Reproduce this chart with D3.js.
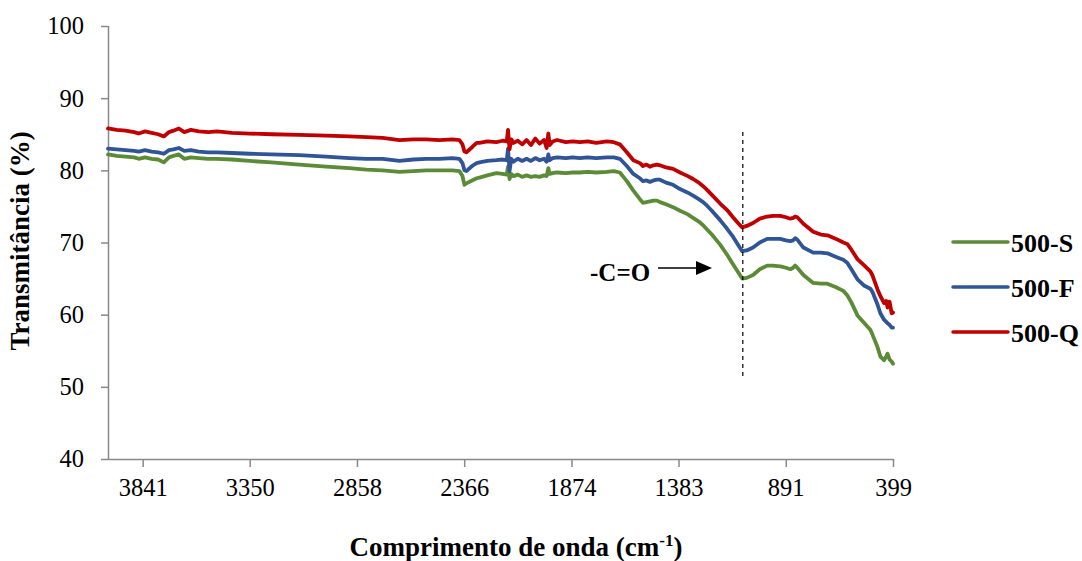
<!DOCTYPE html>
<html><head><meta charset="utf-8">
<script src="https://cdn.jsdelivr.net/npm/d3@7/dist/d3.min.js"></script>
<style>
body{margin:0;background:#fff;}
svg text{font-family:"Liberation Serif","Times New Roman","DejaVu Serif",serif !important;}
</style></head>
<body><svg id="c" width="1082" height="561"></svg>
<script>
const wavenumbers = [4000,3960,3920,3880,3859,3830,3800,3770,3744,3720,3700,3675,3650,3620,3583,3540,3500,3431,3350,3250,3123,3000,2893,2815,2740,2663,2600,2540,2480,2420,2388,2374,2365,2356,2330,2309,2296,2260,2218,2190,2171,2165,2158,2150,2140,2120,2100,2080,2060,2040,2020,2000,1988,1980,1974,1960,1940,1900,1868,1836,1800,1760,1712,1680,1652,1620,1590,1560,1546,1530,1514,1498,1482,1468,1440,1408,1376,1340,1316,1290,1270,1252,1230,1192,1160,1133,1110,1091,1070,1041,1010,976,950,916,890,870,857,848,838,810,765,730,700,660,627,609,590,562,530,503,494,470,457,440,430,424,415,405,399];

const s500Q = [85.8,85.6,85.5,85.3,85.1,85.4,85.2,85.0,84.7,85.3,85.5,85.8,85.3,85.6,85.4,85.3,85.4,85.2,85.1,85.0,84.9,84.8,84.7,84.6,84.5,84.2,84.3,84.3,84.2,84.3,84.2,83.6,82.6,82.5,83.2,83.8,83.8,84.0,83.9,84.1,84.0,85.6,82.9,84.3,83.8,84.1,83.6,84.2,83.5,84.4,83.7,84.2,83.1,85.1,83.5,84.0,84.2,83.9,84.0,83.9,84.0,83.8,84.0,83.9,83.6,82.5,81.4,81.0,80.6,80.8,80.5,80.7,80.8,80.7,80.4,80.2,79.7,79.2,78.8,78.3,77.8,77.3,76.6,75.4,74.5,73.5,72.7,72.1,72.3,72.7,73.3,73.6,73.7,73.7,73.5,73.3,73.4,73.6,73.5,72.6,71.5,71.1,71.0,70.5,70.0,69.8,69.0,67.7,66.8,66.0,65.5,63.5,62.6,61.6,61.9,61.0,61.8,60.2,60.3];

const s500F = [83.0,82.9,82.8,82.7,82.6,82.8,82.6,82.5,82.3,82.8,82.9,83.1,82.7,82.8,82.6,82.5,82.5,82.4,82.3,82.2,82.1,81.9,81.7,81.6,81.6,81.3,81.5,81.6,81.6,81.7,81.6,81.0,80.0,79.9,80.6,81.0,81.1,81.3,81.4,81.5,81.4,83.0,79.9,81.6,81.2,81.6,81.3,81.6,81.3,81.7,81.4,81.6,81.2,82.2,81.4,81.7,81.8,81.7,81.8,81.7,81.8,81.7,81.8,81.8,81.6,80.6,79.5,78.9,78.5,78.6,78.4,78.6,78.7,78.7,78.3,78.0,77.4,76.9,76.5,76.0,75.6,75.1,74.4,73.1,71.9,70.8,69.7,68.8,68.9,69.3,70.0,70.5,70.5,70.5,70.3,70.2,70.3,70.6,70.4,69.3,68.6,68.6,68.5,68.0,67.6,67.2,66.3,64.9,64.0,63.6,63.2,61.4,60.2,59.3,59.0,58.8,58.6,58.2,58.2];

const s500S = [82.2,82.0,81.9,81.8,81.6,81.8,81.6,81.5,81.1,81.8,82.0,82.2,81.6,81.8,81.7,81.6,81.6,81.5,81.3,81.1,80.8,80.5,80.3,80.1,80.0,79.8,79.9,80.0,80.0,80.0,79.9,79.2,78.0,78.2,78.6,78.9,79.0,79.3,79.6,79.5,79.4,80.5,78.8,79.5,79.2,79.4,79.1,79.3,79.1,79.2,79.1,79.3,79.2,80.3,79.5,79.6,79.7,79.6,79.7,79.7,79.8,79.7,79.8,79.9,79.7,78.5,77.2,76.0,75.5,75.6,75.7,75.8,75.8,75.6,75.3,74.9,74.4,73.9,73.4,72.9,72.4,71.8,71.1,69.7,68.3,67.0,65.9,65.0,65.1,65.5,66.3,66.8,66.8,66.7,66.5,66.3,66.5,66.8,66.5,65.5,64.4,64.3,64.3,63.8,63.3,62.7,61.7,59.9,58.8,57.9,57.3,55.5,54.2,53.7,54.2,54.6,53.8,53.5,53.2];

const seriesNames = ["500-S","500-F","500-Q"];
const seriesColors = ["#5B8B37","#2F5597","#C00000"];
const xTicks = [3841,3350,2858,2366,1874,1383,891,399];
const yTicks = [40,50,60,70,80,90,100];
const markerWavenumber = 1088;

const svg = d3.select("#c");
const x = d3.scaleLinear().domain([4000,399]).range([108,893]);
const y = d3.scaleLinear().domain([40,100]).range([459,26]);
const axisColor = "#898989";

const yAxis = svg.append("g").attr("transform","translate(108,0)")
  .call(d3.axisLeft(y).tickValues(yTicks).tickSize(7).tickPadding(17));
const xAxis = svg.append("g").attr("transform","translate(0,459)")
  .call(d3.axisBottom(x).tickValues(xTicks).tickFormat(d3.format("d")).tickSize(8).tickPadding(12).tickSizeOuter(0));
[yAxis,xAxis].forEach(a=>{
  a.attr("font-family",null);
  a.select(".domain").attr("stroke",axisColor).attr("stroke-width",1.5);
  a.selectAll(".tick line").attr("stroke",axisColor).attr("stroke-width",1.5);
  a.selectAll(".tick text").attr("fill","#000").style("font-size","24.5px");
});
xAxis.select(".domain").attr("d","M108,0.5H893");
yAxis.select(".domain").attr("d","M0.5,"+y(100)+"V"+y(40));

const data = [s500S,s500F,s500Q];
const line = d3.line().x((d,i)=>x(wavenumbers[i])).y(d=>y(d));
data.forEach((vals,k)=>{
  svg.append("path").datum(vals).attr("d",line)
    .attr("fill","none").attr("stroke",seriesColors[k]).attr("stroke-width",3.8)
    .attr("stroke-linejoin","round").attr("stroke-linecap","round");
});

svg.append("line").attr("x1",x(markerWavenumber)).attr("x2",x(markerWavenumber))
  .attr("y1",132).attr("y2",380).attr("stroke","#000").attr("stroke-width",1.2)
  .attr("stroke-dasharray","4,4");

svg.append("text").attr("x",590).attr("y",281).style("font-size","25px").style("font-weight","bold").text("-C=O");
svg.append("line").attr("x1",658).attr("x2",697).attr("y1",268).attr("y2",268).attr("stroke","#000").attr("stroke-width",1.5);
svg.append("path").attr("d","M696,261L712,268L696,275Z").attr("fill","#000");

svg.append("text").attr("transform","translate(29,241) rotate(-90)").attr("text-anchor","middle")
  .style("font-size","27px").style("font-weight","bold").text("Transmitância (%)");
const xt = svg.append("text").attr("x",516).attr("y",556).attr("text-anchor","middle")
  .style("font-size","27px").style("font-weight","bold");
xt.append("tspan").text("Comprimento de onda (cm");
xt.append("tspan").attr("dy",-10).style("font-size","17px").text("-1");
xt.append("tspan").attr("dy",10).text(")");

const lg = svg.append("g");
seriesNames.forEach((n,k)=>{
  const yy = 242 + k*45;
  lg.append("line").attr("x1",953).attr("x2",1008).attr("y1",yy).attr("y2",yy)
    .attr("stroke",seriesColors[k]).attr("stroke-width",3.5).attr("stroke-linecap","round");
  lg.append("text").attr("x",1011).attr("y",yy+10).style("font-size","26px").style("font-weight","bold").text(n);
});
</script></body></html>
